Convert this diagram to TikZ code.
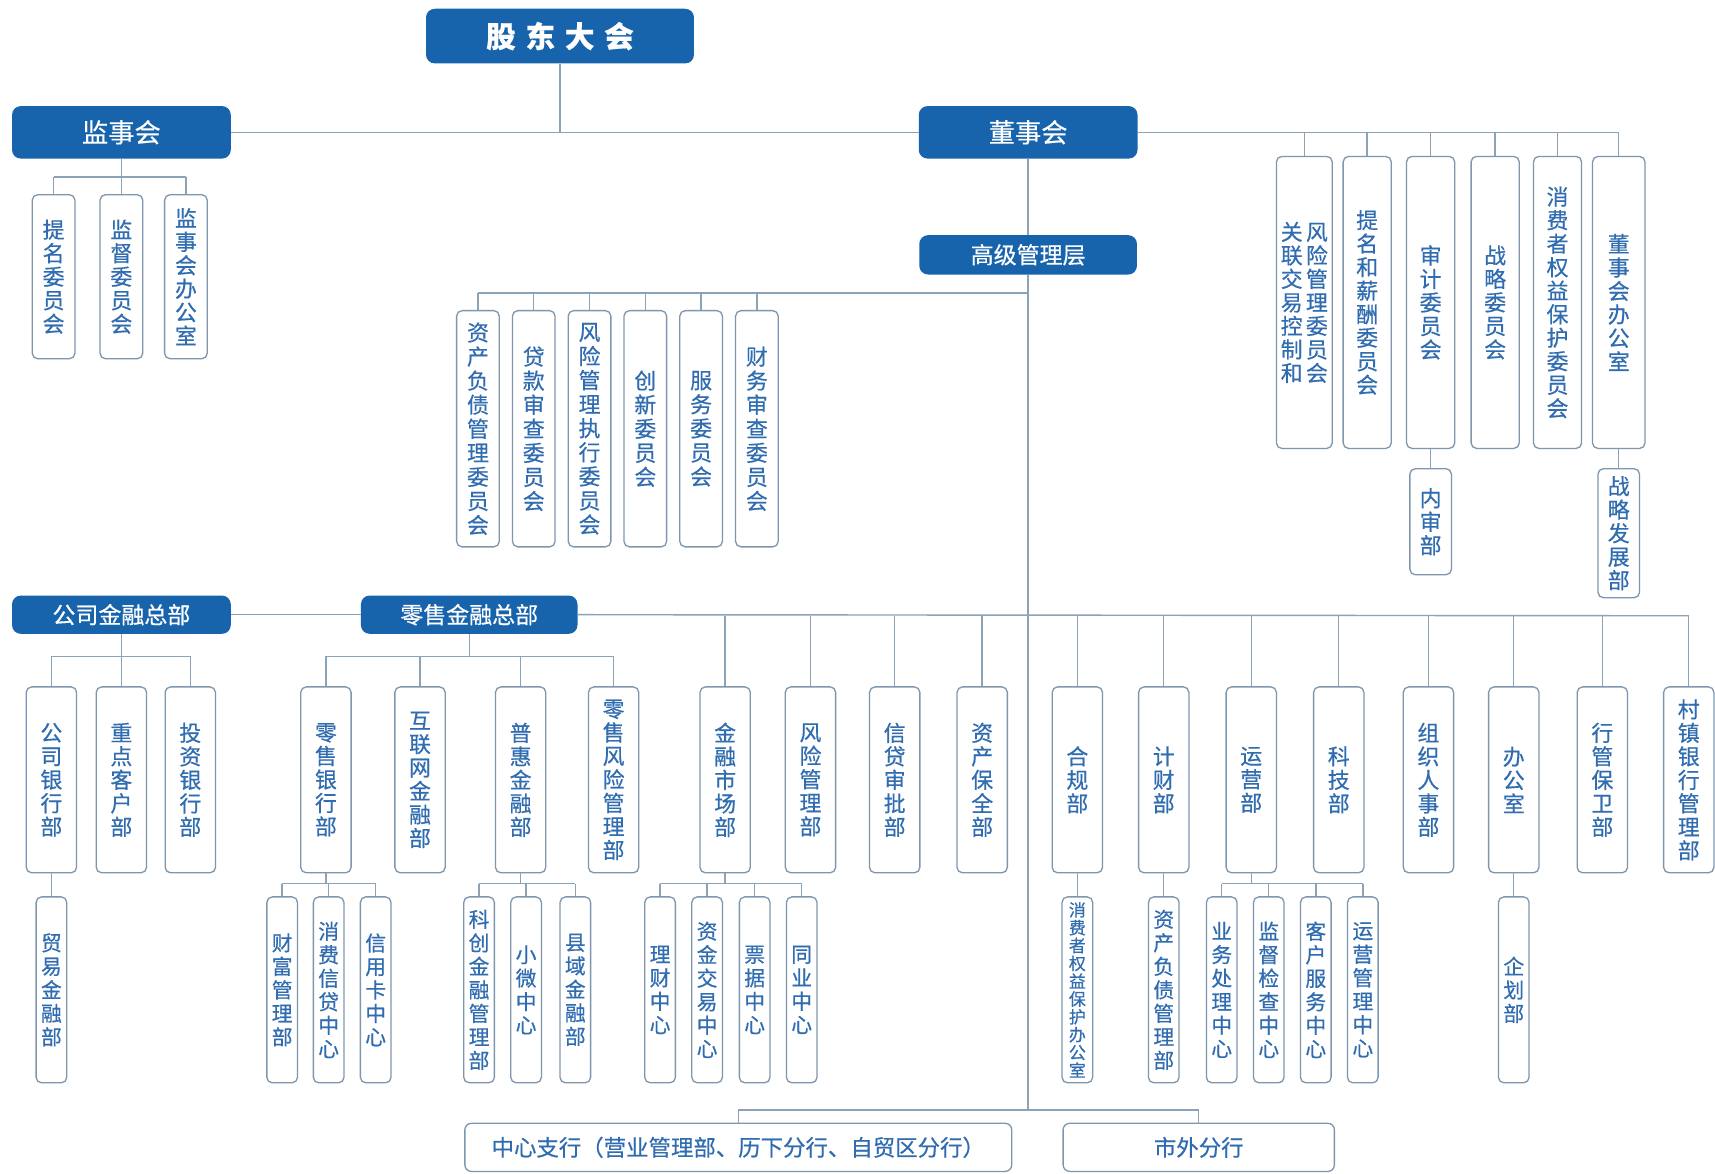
\documentclass[tikz,border=0pt]{standalone}
\usepackage{fontspec}
\setmainfont{Noto Sans CJK SC}[FakeBold=0.5]
\definecolor{dk}{HTML}{1764AC}
\definecolor{bd}{HTML}{7F97AD}
\definecolor{tx}{HTML}{306CB0}
\definecolor{lc}{HTML}{8CA2B6}
\makeatletter
\newcommand\vt[1]{\vbox{\lineskiplimit=-100pt\relax\vt@loop#1\relax}}
\def\vt@loop#1{\ifx\relax#1\else\hbox{#1}\expandafter\vt@loop\fi}
\makeatother
\begin{document}
\begin{tikzpicture}[x=1pt,y=-1pt,
 hd/.style={fill=dk, rounded corners=8pt, text=white, inner sep=0pt},
 vb/.style={draw=bd, fill=white, line width=1.2pt, rounded corners=5pt, text=tx, inner sep=0pt},
 toprow/.style={vb, minimum width=39pt, minimum height=150pt, font=\fontsize{20}{21.5}\selectfont},
 comrow/.style={vb, minimum width=39pt, minimum height=216pt, font=\fontsize{20}{22}\selectfont},
 rrow/.style={vb, minimum width=44pt, minimum height=267pt, font=\fontsize{20}{21.5}\selectfont},
 mrow/.style={vb, minimum width=46pt, minimum height=170pt, font=\fontsize{20}{21.5}\selectfont},
 srow/.style={vb, minimum width=28pt, minimum height=170pt, font=\fontsize{19}{21.5}\selectfont},
 wide/.style={vb, rounded corners=6pt, minimum height=44pt, font=\fontsize{20.5}{21}\selectfont},
 ln/.style={draw=lc, line width=1.3pt}]
\fill[white] (0,0) rectangle (1568,1073);
\useasboundingbox (0,0) rectangle (1568,1073);

% header boxes
\node[hd, minimum width=245pt, minimum height=50pt, font=\bfseries\fontsize{27}{27}\selectfont] (gd) at (512,33) {股\hspace{9pt}东\hspace{9pt}大\hspace{9pt}会};
\node[hd, minimum width=200pt, minimum height=48pt, font=\fontsize{24}{24}\selectfont] (jsh) at (111,121) {监事会};
\node[hd, minimum width=200pt, minimum height=48pt, font=\fontsize{24}{24}\selectfont] (dsh) at (940,121) {董事会};
\node[hd, minimum width=199pt, minimum height=36pt, font=\fontsize{21}{21}\selectfont] (gj) at (940,233) {高级管理层};
\node[hd, minimum width=200pt, minimum height=35pt, font=\fontsize{21}{21}\selectfont] (gs) at (111,562) {公司金融总部};
\node[hd, minimum width=198pt, minimum height=35pt, font=\fontsize{21}{21}\selectfont] (ls) at (429,562) {零售金融总部};

% supervisory board children
\node[toprow] (s1) at (49,253) {\vt{提名委员会}};
\node[toprow] (s2) at (111,253) {\vt{监督委员会}};
\node[toprow] (s3) at (170,253) {\vt{监事会办公室}};

% senior management committees
\node[comrow] (k1) at (437,392) {\vt{资产负债管理委员会}};
\node[comrow] (k2) at (488,392) {\vt{贷款审查委员会}};
\node[comrow] (k3) at (539,392) {\vt{风险管理执行委员会}};
\node[comrow] (k4) at (590,392) {\vt{创新委员会}};
\node[comrow] (k5) at (641,392) {\vt{服务委员会}};
\node[comrow] (k6) at (692,392) {\vt{财务审查委员会}};

% board committees
\node[rrow, minimum width=51pt] (r1) at (1192.5,276.5) {\vt{关联交易控制和}\kern3pt\vt{风险管理委员会}};
\node[rrow] (r2) at (1250,276.5) {\vt{提名和薪酬委员会}};
\node[rrow] (r3) at (1308,276.5) {\vt{审计委员会}};
\node[rrow] (r4) at (1367,276.5) {\vt{战略委员会}};
\node[rrow] (r5) at (1424,276.5) {\vt{消费者权益保护委员会}};
\node[rrow, minimum width=48pt] (r6) at (1480,276.5) {\vt{董事会办公室}};
\node[vb, minimum width=38pt, minimum height=97pt, font=\fontsize{20}{21.5}\selectfont] (n1) at (1308,477) {\vt{内审部}};
\node[vb, minimum width=38pt, minimum height=118pt, font=\fontsize{20}{21.5}\selectfont] (n2) at (1480,487.5) {\vt{战略发展部}};

% departments
\node[mrow] (m1) at (47,713) {\vt{公司银行部}};
\node[mrow] (m2) at (111,713) {\vt{重点客户部}};
\node[mrow] (m3) at (174,713) {\vt{投资银行部}};
\node[mrow] (m4) at (298,713) {\vt{零售银行部}};
\node[mrow] (m5) at (384,713) {\vt{互联网金融部}};
\node[mrow] (m6) at (476,713) {\vt{普惠金融部}};
\node[mrow] (m7) at (561,713) {\vt{零售风险管理部}};
\node[mrow] (m8) at (663,713) {\vt{金融市场部}};
\node[mrow] (m9) at (741,713) {\vt{风险管理部}};
\node[mrow] (m10) at (818,713) {\vt{信贷审批部}};
\node[mrow] (m11) at (898,713) {\vt{资产保全部}};
\node[mrow] (m12) at (985,713) {\vt{合规部}};
\node[mrow] (m13) at (1064,713) {\vt{计财部}};
\node[mrow] (m14) at (1144,713) {\vt{运营部}};
\node[mrow] (m15) at (1224,713) {\vt{科技部}};
\node[mrow] (m16) at (1306,713) {\vt{组织人事部}};
\node[mrow] (m17) at (1384,713) {\vt{办公室}};
\node[mrow] (m18) at (1465,713) {\vt{行管保卫部}};
\node[mrow] (m19) at (1544,713) {\vt{村镇银行管理部}};

% sub departments
\node[srow] (t1) at (47,905) {\vt{贸易金融部}};
\node[srow] (t2) at (258,905) {\vt{财富管理部}};
\node[srow] (t3) at (300.5,905) {\vt{消费信贷中心}};
\node[srow] (t4) at (343.5,905) {\vt{信用卡中心}};
\node[srow] (t5) at (438,905) {\vt{科创金融管理部}};
\node[srow] (t6) at (481,905) {\vt{小微中心}};
\node[srow] (t7) at (526,905) {\vt{县域金融部}};
\node[srow] (t8) at (603.5,905) {\vt{理财中心}};
\node[srow] (t9) at (646.5,905) {\vt{资金交易中心}};
\node[srow] (t10) at (690,905) {\vt{票据中心}};
\node[srow] (t11) at (733,905) {\vt{同业中心}};
\node[srow, font=\fontsize{15.5}{16.3}\selectfont] (t12) at (985,905) {\vt{消费者权益保护办公室}};
\node[srow] (t13) at (1064,905) {\vt{资产负债管理部}};
\node[srow] (t14) at (1117,905) {\vt{业务处理中心}};
\node[srow] (t15) at (1160,905) {\vt{监督检查中心}};
\node[srow] (t16) at (1203,905) {\vt{客户服务中心}};
\node[srow] (t17) at (1246,905) {\vt{运营管理中心}};
\node[srow] (t18) at (1384,905) {\vt{企划部}};

% branches
\node[wide, minimum width=500pt] (b1) at (675,1049) {中心支行（营业管理部、历下分行、自贸区分行）};
\node[wide, minimum width=248pt] (b2) at (1096,1049) {市外分行};

% bus coordinates
\coordinate (bs) at (0,162);
\coordinate (bk) at (0,268);
\coordinate (bm) at (0,563);
\coordinate (bg) at (0,600);
\coordinate (bt) at (0,808);
\coordinate (bb) at (0,1015);

% connectors
\draw[ln] (gd.south) -- (gd.south |- jsh.east);
\draw[ln] (jsh.east) -- (dsh.west);
\draw[ln] (dsh.east) -- (dsh.east -| r6.north);
\foreach \n in {r1,r2,r3,r4,r5,r6} \draw[ln] (\n.north) -- (\n.north |- dsh.east);
\draw[ln] (r3.south) -- (n1.north);
\draw[ln] (r6.south) -- (n2.north);

\draw[ln] (jsh.south) -- (jsh.south |- bs);
\draw[ln] (s1.north |- bs) -- (s3.north |- bs);
\foreach \n in {s1,s2,s3} \draw[ln] (\n.north) -- (\n.north |- bs);

\draw[ln] (dsh.south) -- (gj.north);
\draw[ln] (gj.south) -- (gj.south |- bb);
\draw[ln] (k1.north |- bk) -- (gj.south |- bk);
\foreach \n in {k1,k2,k3,k4,k5,k6} \draw[ln] (\n.north) -- (\n.north |- bk);

\draw[ln] (gs.east) -- (ls.west);
\draw[ln] (ls.east) -- (m19.north |- bm);
\foreach \n in {m8,m9,m10,m11,m12,m13,m14,m15,m16,m17,m18,m19} \draw[ln] (\n.north) -- (\n.north |- bm);

\draw[ln] (gs.south) -- (gs.south |- bg);
\draw[ln] (m1.north |- bg) -- (m3.north |- bg);
\foreach \n in {m1,m2,m3} \draw[ln] (\n.north) -- (\n.north |- bg);
\draw[ln] (ls.south) -- (ls.south |- bg);
\draw[ln] (m4.north |- bg) -- (m7.north |- bg);
\foreach \n in {m4,m5,m6,m7} \draw[ln] (\n.north) -- (\n.north |- bg);

\draw[ln] (m1.south) -- (t1.north);
\draw[ln] (m4.south) -- (m4.south |- bt);
\draw[ln] (t2.north |- bt) -- (t4.north |- bt);
\foreach \n in {t2,t3,t4} \draw[ln] (\n.north) -- (\n.north |- bt);
\draw[ln] (m6.south) -- (m6.south |- bt);
\draw[ln] (t5.north |- bt) -- (t7.north |- bt);
\foreach \n in {t5,t6,t7} \draw[ln] (\n.north) -- (\n.north |- bt);
\draw[ln] (m8.south) -- (m8.south |- bt);
\draw[ln] (t8.north |- bt) -- (t11.north |- bt);
\foreach \n in {t8,t9,t10,t11} \draw[ln] (\n.north) -- (\n.north |- bt);
\draw[ln] (m12.south) -- (t12.north);
\draw[ln] (m13.south) -- (t13.north);
\draw[ln] (m14.south) -- (m14.south |- bt);
\draw[ln] (t14.north |- bt) -- (t17.north |- bt);
\foreach \n in {t14,t15,t16,t17} \draw[ln] (\n.north) -- (\n.north |- bt);
\draw[ln] (m17.south) -- (t18.north);

\draw[ln] (b1.north |- bb) -- (b2.north |- bb);
\draw[ln] (b1.north) -- (b1.north |- bb);
\draw[ln] (b2.north) -- (b2.north |- bb);
\end{tikzpicture}
\end{document}
